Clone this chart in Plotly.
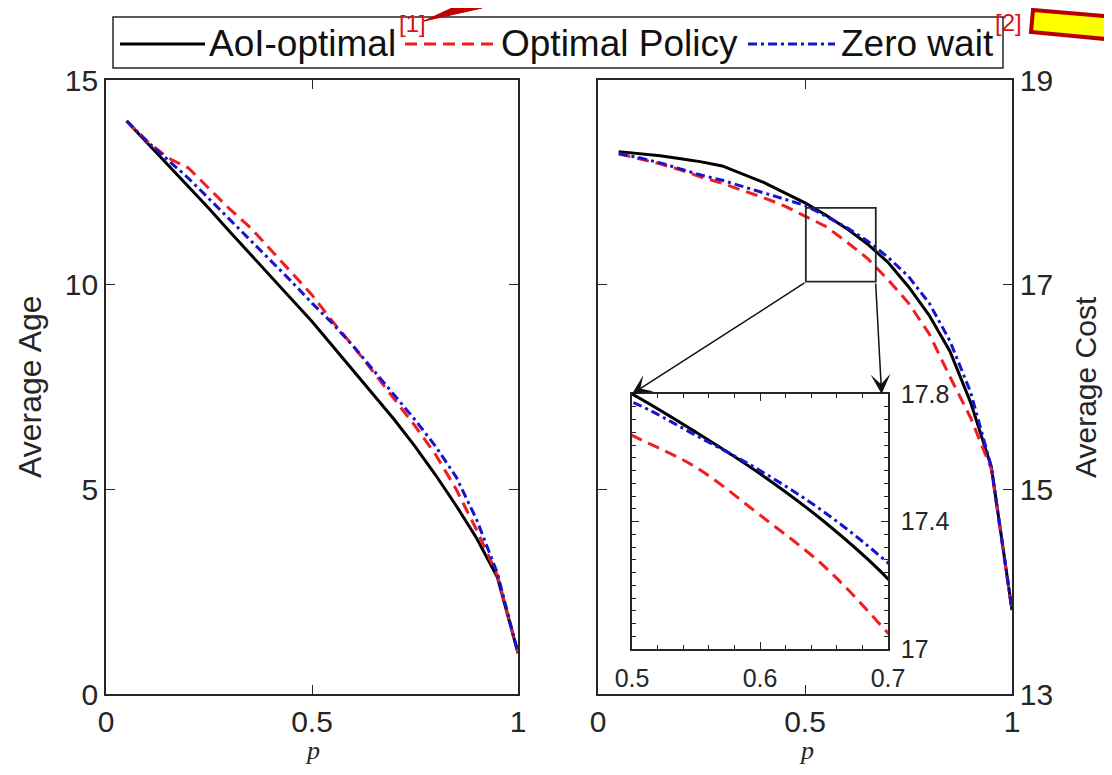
import plotly.graph_objects as go

# ---------------- data ----------------
p = [0.05, 0.10, 0.15, 0.20, 0.25, 0.30, 0.35, 0.40, 0.45, 0.50,
     0.55, 0.60, 0.65, 0.70, 0.75, 0.80, 0.85, 0.90, 0.95, 1.00]

age_aoi = [14.0, 13.47, 12.93, 12.4, 11.86, 11.3, 10.75, 10.2, 9.65, 9.1,
           8.5, 7.9, 7.3, 6.7, 6.05, 5.35, 4.6, 3.8, 2.85, 1.0]
age_opt = [14.0, 13.5, 13.1, 12.85, 12.35, 11.85, 11.4, 10.85, 10.3, 9.75,
           9.1, 8.5, 7.85, 7.2, 6.55, 5.85, 5.0, 4.0, 2.9, 1.0]
age_zw = [14.0, 13.5, 13.05, 12.6, 12.1, 11.6, 11.1, 10.6, 10.08, 9.55,
          9.05, 8.5, 7.9, 7.3, 6.7, 6.05, 5.3, 4.25, 2.95, 1.0]

cost_aoi = [18.30, 18.28, 18.26, 18.23, 18.20, 18.16, 18.08, 18.00, 17.90, 17.80,
            17.68, 17.55, 17.40, 17.22, 16.98, 16.70, 16.35, 15.85, 15.22, 13.82]
cost_opt = [18.28, 18.23, 18.18, 18.12, 18.05, 17.99, 17.92, 17.85, 17.77, 17.67,
            17.57, 17.42, 17.26, 17.05, 16.82, 16.52, 16.10, 15.70, 15.20, 13.82]
cost_zw = [18.28, 18.24, 18.19, 18.13, 18.07, 18.02, 17.96, 17.90, 17.84, 17.775,
           17.67, 17.56, 17.43, 17.27, 17.08, 16.82, 16.45, 15.95, 15.22, 13.82]

series_names = ["AoI-optimal", "Optimal Policy", "Zero wait"]

# ---------------- styles ----------------
OFF = 8  # page body margin
W, H = 1112 - OFF, 775 - 2 * OFF
FONT = "Liberation Sans"
AX = "#262626"
COL = {"AoI-optimal": "#000000", "Optimal Policy": "#f01e1e", "Zero wait": "#1414d2"}
DASH = {"AoI-optimal": "solid", "Optimal Policy": "12px,7px", "Zero wait": "9px,4px,3px,4px"}
LW = 3


def fx(x):
    return (x - OFF) / W


def fy(y):
    return 1 - (y - OFF) / H


fig = go.Figure()

panels = [("x", "y", [age_aoi, age_opt, age_zw], "linear"),
          ("x2", "y2", [cost_aoi, cost_opt, cost_zw], "linear"),
          ("x3", "y3", [cost_aoi, cost_opt, cost_zw], "spline")]
for xa, ya, ys, shp in panels:
    for name, yv in zip(series_names, ys):
        fig.add_trace(go.Scatter(x=p, y=yv, mode="lines", name=name, xaxis=xa, yaxis=ya,
                                 showlegend=False,
                                 line=dict(color=COL[name], width=LW, dash=DASH[name],
                                           shape=shp)))

common = dict(showline=True, linecolor=AX, linewidth=1.6, mirror="ticks", ticks="inside",
              ticklen=9, tickwidth=1.2, tickcolor=AX, showgrid=False, zeroline=False,
              tickfont=dict(family=FONT, size=30, color=AX), automargin=False)
inset = {**common, "tickfont": dict(family=FONT, size=25, color=AX), "ticklen": 7,
         "mirror": "allticks"}

fig.update_layout(
    width=W, height=H, template="none",
    paper_bgcolor="white", plot_bgcolor="white",
    margin=dict(l=0, r=0, t=0, b=0),
    xaxis=dict(domain=[fx(106), fx(518)], anchor="y", range=[0, 1],
               tickvals=[0, 0.5, 1], ticktext=["0", "0.5", "1"], ticklabelstandoff=0, **common),
    yaxis=dict(domain=[fy(694), fy(80)], anchor="x", range=[0, 15],
               tickvals=[0, 5, 10, 15], ticklabelstandoff=0, **common),
    xaxis2=dict(domain=[fx(598), fx(1012)], anchor="y2", range=[0, 1],
                tickvals=[0, 0.5, 1], ticktext=["0", "0.5", "1"], ticklabelstandoff=0, **common),
    yaxis2=dict(domain=[fy(694), fy(80)], anchor="x2", range=[13, 19], side="right",
                tickvals=[13, 15, 17, 19], ticklabelstandoff=0, **common),
    xaxis3=dict(domain=[fx(632), fx(888)], anchor="y3", range=[0.5, 0.7],
                tickvals=[0.5, 0.6, 0.7], ticktext=["0.5", "0.6", "0.7"], ticklabelstandoff=6,
                minor=dict(ticks="inside", ticklen=4, dtick=0.02, tick0=0.5, tickcolor=AX),
                **inset),
    yaxis3=dict(domain=[fy(649), fy(394)], anchor="x3", range=[17, 17.8], side="right",
                tickvals=[17, 17.4, 17.8], ticktext=["17", "17.4", "17.8"], ticklabelstandoff=6,
                minor=dict(ticks="inside", ticklen=4, dtick=0.04, tick0=17, tickcolor=AX),
                **inset),
)

ann = []
# axis titles
ann.append(dict(text="Average Age", x=fx(30), y=fy(387), xref="paper", yref="paper",
                xanchor="center", yanchor="middle",
                textangle=-90, showarrow=False, font=dict(family=FONT, size=32, color=AX)))
ann.append(dict(text="Average Cost", x=fx(1085), y=fy(387), xref="paper", yref="paper",
                xanchor="center", yanchor="middle",
                textangle=-90, showarrow=False, font=dict(family=FONT, size=30, color=AX)))
for cx in (312, 806):
    ann.append(dict(text="<i>p</i>", x=fx(cx), y=fy(767), xref="paper", yref="paper",
                    xanchor="center", yanchor="bottom",
                    showarrow=False, font=dict(family="Liberation Serif", size=26, color=AX)))

# zoom rectangle and arrows to inset
shapes = [dict(type="rect", xref="x2", yref="y2", x0=0.502, x1=0.671, y0=17.03, y1=17.75,
               line=dict(color=AX, width=1.8))]
ann.append(dict(x=0.5, y=17.8, xref="x3", yref="y3", ax=174, ay=-112, text="",
                showarrow=True, arrowhead=3, arrowsize=2.2, arrowwidth=1.5, arrowcolor="#111"))
ann.append(dict(x=0.695, y=17.8, xref="x3", yref="y3", ax=-6, ay=-112, text="",
                showarrow=True, arrowhead=3, arrowsize=2.2, arrowwidth=1.5, arrowcolor="#111"))

# legend (drawn)
shapes.append(dict(type="rect", xref="paper", yref="paper", x0=fx(113), x1=fx(1003),
                   y0=fy(68), y1=fy(17), line=dict(color=AX, width=1.5), fillcolor="white"))
leg = [(series_names[0], 120, 205, 207), (series_names[1], 405, 495, 499),
       (series_names[2], 748, 835, 839)]
for name, l0, l1, tx in leg:
    shapes.append(dict(type="line", xref="paper", yref="paper", x0=fx(l0), x1=fx(l1),
                       y0=fy(44), y1=fy(44),
                       line=dict(color=COL[name], width=LW, dash=DASH[name])))
    ann.append(dict(text=name, x=fx(tx), y=fy(44), xref="paper", yref="paper",
                    xanchor="left", yanchor="middle", showarrow=False,
                    font=dict(family=FONT, size=37, color="#111")))

# red reference markers
ann.append(dict(text="[1]", x=fx(397), y=fy(8), xref="paper", yref="paper", xanchor="left",
                yanchor="top", showarrow=False, font=dict(family=FONT, size=24, color="#e01010")))
ann.append(dict(text="[2]", x=fx(993), y=fy(22), xref="paper", yref="paper", xanchor="left",
                yanchor="middle", showarrow=False, font=dict(family=FONT, size=24, color="#e01010")))
shapes.append(dict(type="path", xref="paper", yref="paper",
                   path=f"M {fx(424)} {fy(21)} L {fx(452)} {fy(8)} L {fx(482)} {fy(8)} Z",
                   fillcolor="#c00000", line=dict(color="#c00000", width=1)))
shapes.append(dict(type="path", xref="paper", yref="paper",
                   path=f"M {fx(1033)} {fy(10)} L {fx(1116)} {fy(17)} L {fx(1116)} {fy(40)} L {fx(1031)} {fy(32)} Z",
                   fillcolor="#ffff00", line=dict(color="#b80000", width=4)))

fig.update_layout(annotations=ann, shapes=shapes)
fig.write_html("out.html")
